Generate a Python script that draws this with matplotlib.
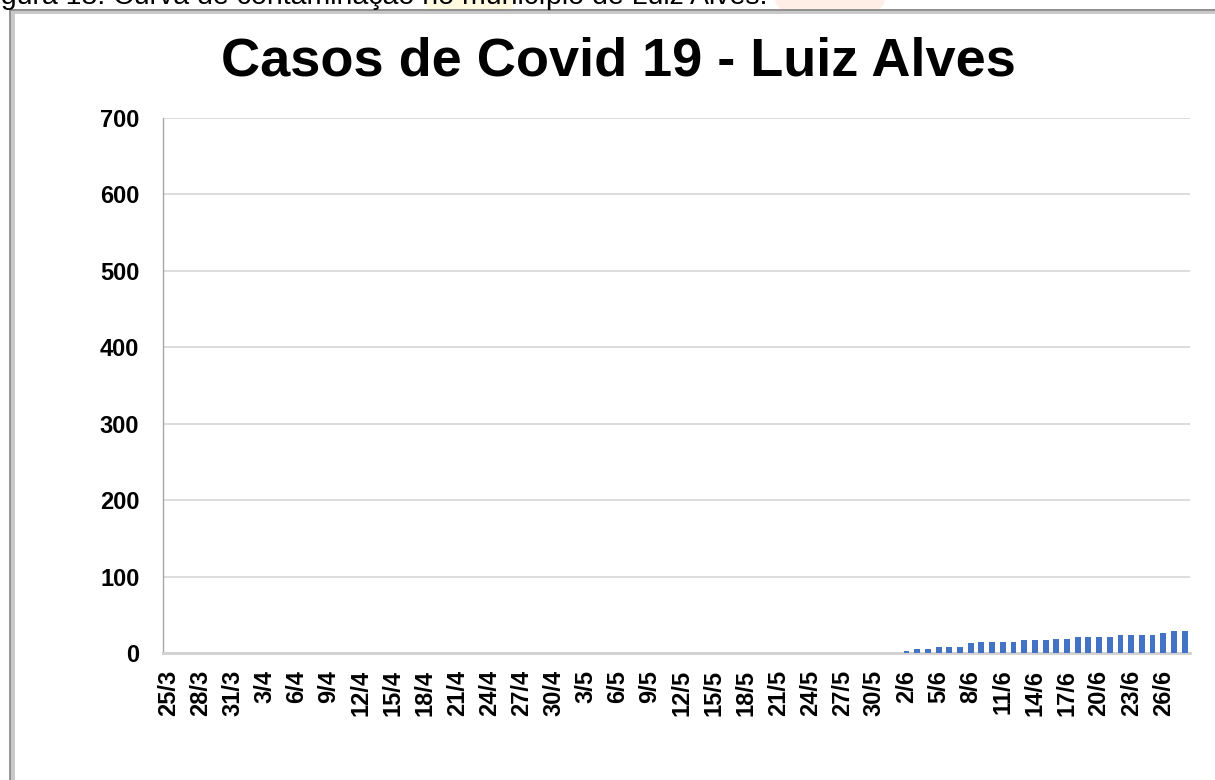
import matplotlib
matplotlib.use("Agg")
import matplotlib.pyplot as plt
from matplotlib.patches import Rectangle, Ellipse
import pandas as pd

# ---- data ----
dates = [d.strftime("%-d/%-m") for d in pd.date_range("2020-03-25", "2020-06-28", freq="D")]
cases = [
    0, 0, 0, 0, 0, 0, 0,                                  # 25/3 - 31/3
    0, 0, 0, 0, 0, 0, 0, 0, 0, 0, 0, 0, 0, 0, 0,          # 1/4 - 15/4
    0, 0, 0, 0, 0, 0, 0, 0, 0, 0, 0, 0, 0, 0, 0,          # 16/4 - 30/4
    0, 0, 0, 0, 0, 0, 0, 0, 0, 0, 0, 0, 0, 0, 0, 0,       # 1/5 - 16/5
    0, 0, 0, 0, 0, 0, 0, 0, 0, 0, 0, 0, 0, 0, 0,          # 17/5 - 31/5
    0, 2, 5, 5, 8, 8, 8, 13, 15, 15, 15, 15, 17, 17,      # 1/6 - 14/6
    17, 18, 18, 21, 21, 21, 21, 24, 24, 24, 24, 26, 29, 29  # 15/6 - 28/6
]
tick_step = 3
title = "Casos de Covid 19 - Luiz Alves"
caption = "Figura 18: Curva de contaminação no município de Luiz Alves."
y_ticks = [0, 100, 200, 300, 400, 500, 600, 700]

plt.rcParams['font.family'] = ['Liberation Sans', 'DejaVu Sans']

W, H = 1215, 780
fig = plt.figure(figsize=(W / 100, H / 100), dpi=100)
fig.patch.set_facecolor("white")

# faint watermark glow at the page top
clip = Rectangle((0, 1 - 10 / H), 1, 10 / H, transform=fig.transFigure, visible=False)
fig.patches.append(clip)
for cx, col, w in [(470, "#fff6cc", 90), (830, "#ffe3d6", 110)]:
    e = Ellipse((cx / W, 1.0), w / W, 40 / H, transform=fig.transFigure,
                facecolor=col, edgecolor="none", alpha=0.6, zorder=-1)
    e.set_clip_path(clip)
    fig.patches.append(e)

# caption (cut at top of page)
fig.text(-23 / W, 1 - 4 / H, caption, fontsize=20.5, va="baseline", ha="left", color="black")

# chart border with shadow
fig.patches.append(Rectangle((11.5 / W, -0.1), 1.2, 1 - 11.5 / H + 0.1,
                             transform=fig.transFigure, fill=False,
                             edgecolor="#c8c8c8", lw=3.5, zorder=1))
fig.patches.append(Rectangle((10 / W, -0.1), 1.2, 1 - 10 / H + 0.1,
                             transform=fig.transFigure, fill=False,
                             edgecolor="#8c8c8c", lw=1.3, zorder=2))

ax = fig.add_axes([163 / W, 1 - 653 / H, (1190 - 163) / W, (653 - 118) / H])
ax.set_zorder(5)
ax.patch.set_alpha(0)
x = list(range(len(dates)))
ax.bar(x, cases, width=0.55, color="#4472C4", zorder=3)

ax.set_xlim(-0.5, len(dates) - 0.5)
ax.set_ylim(0, 700)
ax.set_yticks(y_ticks)
ax.set_yticklabels([str(v) for v in y_ticks], fontsize=17, fontweight="bold")
ax.set_xticks(x[::tick_step])
ax.set_xticklabels(dates[::tick_step], rotation=90, fontsize=17, fontweight="bold")
ax.tick_params(axis="both", length=0)
ax.tick_params(axis="y", pad=17)
ax.tick_params(axis="x", pad=12)

ax.grid(axis="y", color="#d9d9d9", lw=1.3, zorder=0)
ax.set_axisbelow(True)
for s in ["top", "right"]:
    ax.spines[s].set_visible(False)
ax.spines["left"].set_color("#a6a6a6")
ax.spines["left"].set_linewidth(1.0)
ax.spines["bottom"].set_color("#d0d0d0")
ax.spines["bottom"].set_linewidth(2.0)

fig.text(618 / W, 1 - 62 / H, title, fontsize=39, fontweight="bold",
         ha="center", va="center", zorder=6)

fig.savefig("out.png", dpi=100)
